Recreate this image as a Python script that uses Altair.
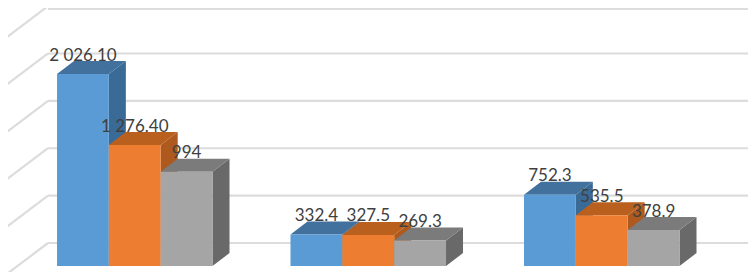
import altair as alt
import pandas as pd

# values
groups = [0, 1, 2]
series_a = [2026.1, 332.4, 752.3]
series_b = [1276.4, 327.5, 535.5]
series_c = [994.0, 269.3, 378.9]
labels_a = ["2 026.10", "332.4", "752.3"]
labels_b = ["1 276.40", "327.5", "535.5"]
labels_c = ["994", "269.3", "378.9"]
grid_values = [0, 500, 1000, 1500, 2000, 2500]

front = ["#5B9BD5", "#ED7D31", "#A5A5A5"]
top = ["#41719C", "#B9601F", "#7B7B7B"]
side = ["#3A6A96", "#AE591D", "#696969"]

# projection constants (in data units)
X_DOMAIN = [-0.2099, 2.9593]
Y_DOMAIN = [-63.3, 2722.6]
BAR_W = 0.2220
DX, DY = 0.0728, 137.0        # bar depth
WALL_DY = 242.7               # back wall elevation of value 0
WALL_X0 = -0.0386             # where the back wall starts
WALL_X1 = 2.97
SLANT_DX, SLANT_DY = -0.1927, -358.8
LABEL_DY = 195.0

polys, texts = [], []
for gi, g in enumerate(groups):
    all_series = [(series_a, labels_a), (series_b, labels_b), (series_c, labels_c)]
    for si, (vals, labs) in enumerate(all_series):
        v = vals[gi]
        x0 = g + si * BAR_W
        x1 = x0 + BAR_W
        base = f"{gi}-{si}"
        # side face
        for x, y, y2 in [(x1, v, 0), (x1 + DX, v + DY, DY)]:
            polys.append(dict(id=base + "-a", x=x, y=y, y2=y2, c=side[si]))
        # top face
        for x, y, y2 in [(x0, v, v), (x0 + DX, v + DY, v), (x1, v + DY, v), (x1 + DX, v + DY, v + DY)]:
            polys.append(dict(id=base + "-b", x=x, y=y, y2=y2, c=top[si]))
        # front face
        for x, y, y2 in [(x0, v, 0), (x1, v, 0)]:
            polys.append(dict(id=base + "-c", x=x, y=y, y2=y2, c=front[si]))
        texts.append(dict(x=(x0 + x1) / 2, y=v + LABEL_DY, t=labs[gi]))

grid_rows = [
    dict(x=WALL_X0, x2=WALL_X1, y=min(v + WALL_DY, Y_DOMAIN[1] - 10))
    for v in grid_values
]
slant_rows = [
    dict(x=WALL_X0, x2=WALL_X0 + SLANT_DX, y=v + WALL_DY, y2=v + WALL_DY + SLANT_DY)
    for v in grid_values
]

xs = alt.Scale(domain=X_DOMAIN, nice=False, zero=False)
ys = alt.Scale(domain=Y_DOMAIN, nice=False, zero=False)
X = alt.X("x:Q", scale=xs, axis=None)
Y = alt.Y("y:Q", scale=ys, axis=None)

grid = alt.Chart(pd.DataFrame(grid_rows)).mark_rule(
    color="#DCDCDC", strokeWidth=2.2, clip=False
).encode(x=X, x2="x2:Q", y=Y)

slant = alt.Chart(pd.DataFrame(slant_rows)).mark_rule(
    color="#DCDCDC", strokeWidth=2.2, clip=False
).encode(x=X, x2="x2:Q", y=Y, y2="y2:Q")

bars = alt.Chart(pd.DataFrame(polys)).mark_area(interpolate="linear", clip=False).encode(
    x=X,
    y=alt.Y("y:Q", scale=ys, axis=None, stack=None),
    y2="y2:Q",
    detail="id:N",
    fill=alt.Fill("c:N", scale=None),
)

text = alt.Chart(pd.DataFrame(texts)).mark_text(
    font="Lato", fontSize=17, color="#404040", align="center", baseline="middle"
).encode(x=X, y=Y, text="t:N")

chart = (
    alt.layer(slant, grid, bars, text)
    .properties(
        width=740,
        height=264,
        padding=0,
        autosize=alt.AutoSizeParams(type="none"),
        background="white",
    )
    .configure_view(stroke=None)
)

chart.save("out.html", embed_options={"renderer": "svg", "actions": False})
